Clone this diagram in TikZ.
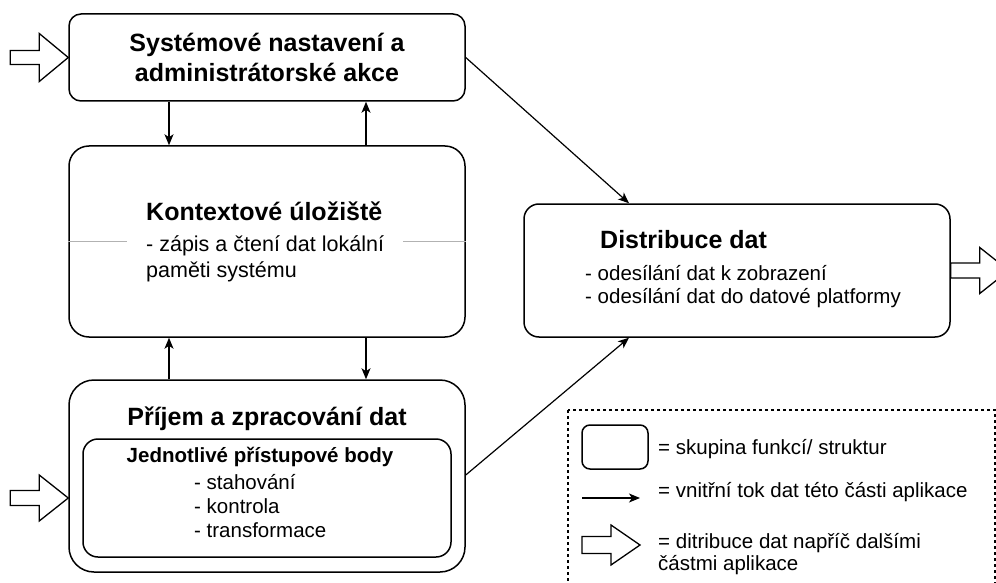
\documentclass[tikz,border=0pt]{standalone}
\usepackage{fontspec}
\setmainfont{Liberation Sans}
\usetikzlibrary{arrows.meta,calc}
\begin{document}
\begin{tikzpicture}[
  x=1pt, y=-1pt,
  group/.style={draw, line width=1.5pt, rounded corners=#1},
  group/.default=12pt,
  flow/.style={line width=1.2pt, -{Stealth[length=11pt,width=9pt,inset=3pt]}},
  hollow/.style={draw, line width=1.3pt, fill=white, line join=miter},
  ttl/.style={font=\bfseries\fontsize{25}{30}\selectfont},
  subttl/.style={font=\bfseries\fontsize{20.5}{24}\selectfont},
  txt/.style={font=\fontsize{20.5}{24}\selectfont},
  pics/blockarrow/.style args={#1/#2}{code={
    \draw[hollow] (0,0) -- (-29,-#1) -- (-29,-#2) -- (-58,-#2) -- (-58,#2)
      -- (-29,#2) -- (-29,#1) -- cycle;}},
]
\useasboundingbox (0,0) rectangle (996,583);
\clip (0,0) rectangle (996,583);

% --- main groups -------------------------------------------------------
\node[group=12pt, minimum width=396pt, minimum height=87pt, align=center, ttl]
  (sys) at (267,57.5) {Systémové nastavení a\\administrátorské akce};

\node[group=20pt, minimum width=396pt, minimum height=191pt] (ctx) at (267,241.5) {};
\draw[gray!60, line width=0.8pt] (ctx.west) -- (ctx.east);
% multi-line nodes sit on the baseline of their last line
\node[fill=white, inner xsep=19pt, inner ysep=4pt, align=left,
      font=\fontsize{21.5}{25}\selectfont, anchor=base west] (ctxtxt) at (127,277)
  {{\bfseries\fontsize{25}{30}\selectfont Kontextové úložiště}\\[6pt]
   - zápis a čtení dat lokální\\[0.5pt] paměti systému};

\node[group=25pt, minimum width=396pt, minimum height=192pt] (rx) at (267,476) {};
\node[ttl, anchor=base] (rxttl) at (267,425) {Příjem a zpracování dat};
\node[group=15pt, minimum width=368pt, minimum height=118pt] (ap) at (267,498) {};
\node[subttl, anchor=base] (apttl) at (260,462) {Jednotlivé přístupové body};
\node[txt, anchor=base west, align=left, inner sep=0pt] (aplist) at (194,537)
  {- stahování\\- kontrola\\- transformace};

\node[group=15pt, minimum width=426pt, minimum height=133pt] (dist) at (737,270.5) {};
\node[ttl, anchor=base west, inner sep=0pt] (distttl) at (600,248) {Distribuce dat};
\node[font=\fontsize{20.5}{23}\selectfont, anchor=base west, align=left, inner sep=0pt]
  (distlist) at (585,303)
  {- odesílání dat k zobrazení\\- odesílání dat do datové platformy};

% --- internal data flow ------------------------------------------------
\draw[flow] ([xshift=-98pt]sys.south) -- ([xshift=-98pt]ctx.north);
\draw[flow] ([xshift=99pt]ctx.north) -- ([xshift=99pt]sys.south);
\draw[flow] ([xshift=-98pt]rx.north) -- ([xshift=-98pt]ctx.south);
\draw[flow] ([xshift=99pt]ctx.south) -- ([xshift=99pt]rx.north);
\draw[flow] (sys.east) -- ([xshift=-108pt]dist.north);
\draw[flow] ([yshift=1pt]rx.east) -- ([xshift=-108pt]dist.south);

% --- distribution to other parts of the application --------------------
\pic at (sys.west) {blockarrow=24/7};
\pic at (ap.west -| rx.west) {blockarrow=23/7.5};
\pic at ([xshift=58pt]dist.east) {blockarrow=23/7.5};

% --- legend ------------------------------------------------------------
\draw[line width=1.2pt, dash pattern=on 3pt off 3pt] (568,410) rectangle (995,620);
\node[group=8pt, minimum width=66pt, minimum height=44pt] (lgbox) at (615,447) {};
\node[txt, anchor=base west, inner sep=0pt] (lg1) at (658,454) {= skupina funkcí/ struktur};
\coordinate (lga) at (582,498);
\coordinate (lgb) at (640,498);
\draw[flow] (lga) -- (lgb);
\node[txt, anchor=base west, inner sep=0pt] (lg2) at (658,497) {= vnitřní tok dat této části aplikace};
\pic at (640,545) {blockarrow=20/8.5};
\node[font=\fontsize{20.5}{22}\selectfont, anchor=base west, align=left, inner sep=0pt]
  (lg3) at (658,570) {= ditribuce dat napříč dalšími\\částmi aplikace};
\end{tikzpicture}
\end{document}
